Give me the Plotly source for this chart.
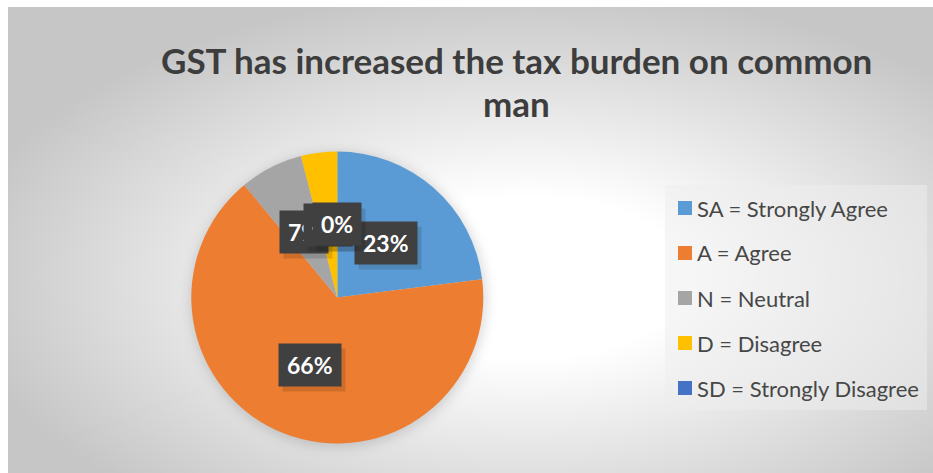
import base64
import math
import plotly.graph_objects as go

# Survey responses (percent of respondents)
labels = ["SA = Strongly Agree", "A = Agree", "N = Neutral", "D = Disagree", "SD = Strongly Disagree"]
values = [23, 66, 7, 4, 0]
colors = ["#5B9BD5", "#ED7D31", "#A5A5A5", "#FFC000", "#4472C4"]
title_lines = ["GST has increased the tax burden on common", "man"]

W, H = 933, 473

# Pie placement in pixels
PIE_CX, PIE_CY, PIE_R = 337.3, 297.5, 146.0
# Chart area (gradient panel)
AREA_X0, AREA_Y0 = 8, 7


def px(x):
    return x / W


def py(y):
    return 1 - y / H


# Radial-gradient panel with a soft shadow under the pie, drawn as an SVG image
aw, ah = W - AREA_X0, H - AREA_Y0
svg = f"""<svg xmlns='http://www.w3.org/2000/svg' width='{aw}' height='{ah}' viewBox='0 0 {aw} {ah}'>
<defs>
<radialGradient id='g' cx='0.56' cy='0.58' r='0.62'>
<stop offset='0' stop-color='#ffffff'/>
<stop offset='0.28' stop-color='#ffffff'/>
<stop offset='1' stop-color='#c6c6c6'/>
</radialGradient>
<filter id='b' x='-30%' y='-30%' width='160%' height='160%'><feGaussianBlur stdDeviation='6'/></filter>
</defs>
<rect x='0' y='0' width='{aw}' height='{ah}' fill='url(#g)'/>
<circle cx='{PIE_CX - AREA_X0 + 1}' cy='{PIE_CY - AREA_Y0 + 2}' r='{PIE_R + 2}' fill='#000' fill-opacity='0.14' filter='url(#b)'/>
</svg>"""
bg_src = "data:image/svg+xml;base64," + base64.b64encode(svg.encode()).decode()

fig = go.Figure(
    go.Pie(
        labels=labels,
        values=values,
        marker=dict(colors=colors, line=dict(width=0)),
        sort=False,
        direction="clockwise",
        rotation=0,
        textinfo="none",
        hoverinfo="label+percent",
        showlegend=False,
        domain=dict(
            x=[px(PIE_CX - PIE_R), px(PIE_CX + PIE_R)],
            y=[py(PIE_CY + PIE_R), py(PIE_CY - PIE_R)],
        ),
    )
)

annotations = []
shapes = []

# Data labels: dark callout boxes at half radius on each slice's mid-angle
total = sum(values)
cum = 0.0
for v in values:
    mid = (cum + v / 2) / total * 2 * math.pi
    cum += v
    lx = PIE_CX + 0.5 * PIE_R * math.sin(mid)
    ly = PIE_CY - 0.5 * PIE_R * math.cos(mid)
    txt = f"{round(v / total * 100)}%"
    common = dict(
        text=f"<b>{txt}</b>",
        xref="paper", yref="paper",
        xanchor="center", yanchor="middle",
        showarrow=False,
        borderpad=8,
        height=26,
    )
    # soft drop shadow
    annotations.append(dict(common, x=px(lx + 4), y=py(ly + 5),
                            bgcolor="rgba(0,0,0,0.13)",
                            font=dict(family="Lato", size=23, color="rgba(0,0,0,0)")))
    annotations.append(dict(common, x=px(lx), y=py(ly), bgcolor="#404040",
                            font=dict(family="Lato", size=23, color="white")))

# Title, two centred lines
for i, line in enumerate(title_lines):
    annotations.append(dict(
        text=f"<b>{line}</b>",
        xref="paper", yref="paper",
        x=px(516), y=py(60 + 43 * i),
        xanchor="center", yanchor="middle",
        showarrow=False,
        font=dict(family="Lato", size=35, color="#3d3d3d"),
    ))

# Legend panel
LEG_X0, LEG_Y0, LEG_X1, LEG_Y1 = 665, 185, 927, 410
shapes.append(dict(type="rect", xref="paper", yref="paper",
                   x0=px(LEG_X0), x1=px(LEG_X1), y0=py(LEG_Y1), y1=py(LEG_Y0),
                   fillcolor="rgba(238,238,238,0.5)", line=dict(width=0), layer="below"))
for i, (lab, col) in enumerate(zip(labels, colors)):
    cy = 208 + 45 * i
    shapes.append(dict(type="rect", xref="paper", yref="paper",
                       x0=px(678), x1=px(692), y0=py(cy + 7), y1=py(cy - 7),
                       fillcolor=col, line=dict(width=0)))
    annotations.append(dict(
        text=lab, xref="paper", yref="paper",
        x=px(695), y=py(cy),
        xanchor="left", yanchor="middle", showarrow=False,
        font=dict(family="Lato", size=22, color="#474747"),
    ))

fig.update_layout(
    width=W, height=H,
    margin=dict(l=0, r=0, t=0, b=0),
    paper_bgcolor="white",
    plot_bgcolor="white",
    images=[dict(source=bg_src, xref="paper", yref="paper",
                 x=px(AREA_X0), y=py(AREA_Y0),
                 sizex=aw / W, sizey=ah / H,
                 xanchor="left", yanchor="top",
                 sizing="stretch", layer="below")],
    annotations=annotations,
    shapes=shapes,
)

fig.write_html("out.html")
